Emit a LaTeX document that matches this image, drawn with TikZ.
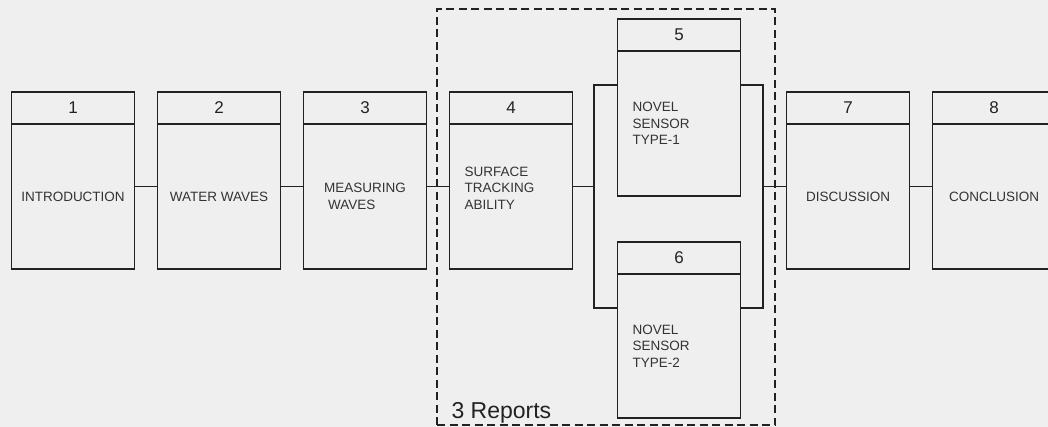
\documentclass[tikz,border=0pt]{standalone}
\usepackage{fontspec}
\setmainfont{Liberation Sans}
\usepackage{xcolor}
\usetikzlibrary{positioning}
\definecolor{paperbg}{HTML}{EFEFEF}
\definecolor{ink}{HTML}{222222}
\definecolor{inktext}{HTML}{333333}
\tikzset{
  stagehead/.style={draw=ink, line width=1.5pt, outer sep=0pt, minimum width=123pt, minimum height=32pt, inner sep=0pt, text=ink, font=\fontsize{17}{17}\selectfont},
  stagebody/.style={draw=ink, line width=1.5pt, outer sep=0pt, minimum width=123pt, minimum height=145pt, inner sep=0pt, align=center, text=inktext, font=\fontsize{13.5}{16.5}\selectfont},
  stagetext/.style={align=left, inner sep=0pt, text=inktext, font=\fontsize{13.5}{16.5}\selectfont},
  stagelink/.style={draw=ink, line width=1.5pt},
  groupbox/.style={draw=ink, line width=1.3pt, dash pattern=on 8pt off 4.5pt, minimum width=338pt, minimum height=416pt, inner sep=0pt},
  grouplabel/.style={text=ink, font=\fontsize{23}{23}\selectfont}
}

\begin{document}
\begin{tikzpicture}[x=1pt, y=-1pt]
  \useasboundingbox (0,0) rectangle (1048,427);
  \clip (0,0) rectangle (1048,427);
  \fill[paperbg] (0,0) rectangle (1048,427);

  % report group
  \node[groupbox] (group) at (606,217) {};
  \node[grouplabel, anchor=base west] (groupname) at (448,418) {3 Reports};

  % main row
  \node[stagehead] (h1) at (73,108) {1};
  \node[stagebody, below=0pt of h1] (b1) {INTRODUCTION};
  \node[stagehead, right=23pt of h1] (h2) {2};
  \node[stagebody, below=0pt of h2] (b2) {WATER WAVES};
  \node[stagehead, right=23pt of h2] (h3) {3};
  \node[stagebody, below=0pt of h3, align=left] (b3) {MEASURING\\\hspace*{4pt}WAVES};
  \node[stagehead, right=23pt of h3] (h4) {4};
  \node[stagebody, below=0pt of h4] (b4) {};
  \node[stagetext, right=15pt of b4.west, yshift=8.5pt] (t4) {SURFACE\\TRACKING\\ABILITY};

  % sensor reports
  \node[stagehead] (h5) at (679,35) {5};
  \node[stagebody, below=0pt of h5, text width=93pt, align=left] (b5) {NOVEL\\SENSOR\\TYPE-1};
  \node[stagehead] (h6) at (679,258) {6};
  \node[stagebody, below=0pt of h6, minimum height=144pt, text width=93pt, align=left] (b6) {NOVEL\\SENSOR\\TYPE-2};

  \node[stagehead, right=214pt of h4] (h7) {7};
  \node[stagebody, below=0pt of h7] (b7) {DISCUSSION};
  \node[stagehead, right=23pt of h7] (h8) {8};
  \node[stagebody, below=0pt of h8] (b8) {CONCLUSION};

  \coordinate (forkL) at (594,186.5);
  \coordinate (forkR) at (763,186.5);

  \draw[stagelink] ([yshift=10pt]b1.east) -- ([yshift=10pt]b2.west);
  \draw[stagelink] ([yshift=10pt]b2.east) -- ([yshift=10pt]b3.west);
  \draw[stagelink] ([yshift=10pt]b3.east) -- ([yshift=10pt]b4.west);
  \draw[stagelink] (forkL -| b4.east) -- (forkL);
  \draw[stagelink] ([yshift=38.5pt]b5.west) -| (forkL) |- ([yshift=38pt]b6.west);
  \draw[stagelink] ([yshift=38.5pt]b5.east) -| (forkR) |- ([yshift=38pt]b6.east);
  \draw[stagelink] (forkR) -- (forkR -| b7.west);
  \draw[stagelink] ([yshift=10pt]b7.east) -- ([yshift=10pt]b8.west);
\end{tikzpicture}
\end{document}
